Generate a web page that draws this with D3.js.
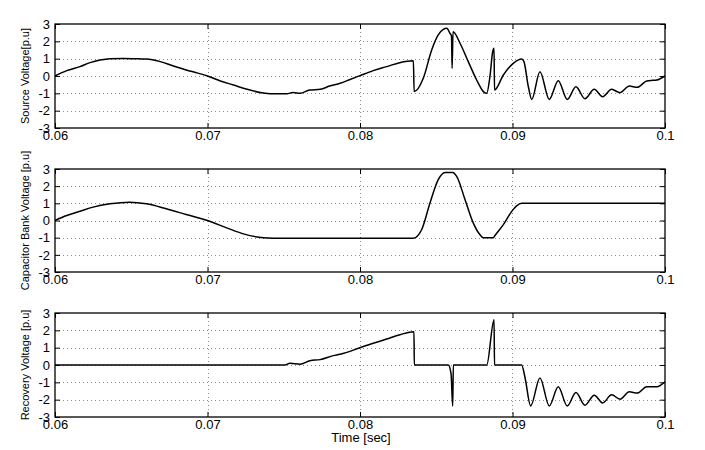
<!DOCTYPE html>
<html>
<head>
<meta charset="utf-8">
<script src="https://cdn.jsdelivr.net/npm/d3@7"></script>
<style>
  html, body { margin: 0; padding: 0; background: #fff; }
  svg { display: block; font-family: "Liberation Sans", Arial, Helvetica, sans-serif; }
</style>
</head>
<body>
<svg id="chart" width="705" height="450"></svg>
<script>
// ---------- data (time in seconds, voltage in p.u.) ----------
const xTickValues = [0.06, 0.07, 0.08, 0.09, 0.1];
const xTickLabels = ["0.06", "0.07", "0.08", "0.09", "0.1"];
const yTickValues = [-3, -2, -1, 0, 1, 2, 3];
const yTickLabels = ["-3", "-2", "-1", "0", "1", "2", "3"];
const panelTitles = ["Source Voltage[p.u]", "Capacitor Bank Voltage [p.u]", "Recovery Voltage [p.u]"];
const xAxisTitle = "Time [sec]";

const sourceTime = [0.06, 0.06077, 0.06164, 0.0623, 0.06295, 0.0636, 0.0645, 0.0652, 0.066, 0.0669, 0.06776, 0.0686, 0.0693, 0.07,
  0.0708, 0.0717, 0.0726, 0.07366, 0.0745, 0.0752, 0.0756, 0.07607, 0.0767, 0.0774, 0.078, 0.0787, 0.0793, 0.08,
  0.08087, 0.08175, 0.0826, 0.0835, 0.08355, 0.08415, 0.0847, 0.08513, 0.08546, 0.08569, 0.0859, 0.086, 0.08604, 0.0861,
  0.08656, 0.0871, 0.08765, 0.08809, 0.08831, 0.08852, 0.0887, 0.08879, 0.08882, 0.0894, 0.09005, 0.0906, 0.09075,
  0.09104, 0.09126, 0.0918, 0.09241, 0.093, 0.09359, 0.09416, 0.09475, 0.09536, 0.09591, 0.0965, 0.09705, 0.09766,
  0.09818, 0.0988, 0.0992, 0.09946, 0.1];
const sourceVolt = [0, 0.31, 0.54, 0.77, 0.92, 1.0, 1.01, 1.0, 0.98, 0.83, 0.58, 0.35, 0.18, 0,
  -0.27, -0.52, -0.77, -0.98, -1.03, -1.03, -0.95, -1.0, -0.81, -0.77, -0.58, -0.42, -0.22, 0.02,
  0.31, 0.54, 0.77, 0.88, -0.9, -0.13, 1.5, 2.37, 2.69, 2.75, 2.46, 2.3, 0.44, 2.56,
  1.89, 0.83, -0.23, -0.9, -1.0, -0.04, 1.4, 1.6, -0.81, 0.06, 0.73, 0.98, 0.83,
  -0.62, -1.35, 0.25, -1.35, -0.27, -1.35, -0.62, -1.31, -0.77, -1.19, -0.77, -0.96, -0.58,
  -0.65, -0.29, -0.25, -0.23, 0];

const capTime = [0.06, 0.06077, 0.06164, 0.0625, 0.0636, 0.0649, 0.066, 0.0673, 0.0686, 0.07, 0.07126, 0.07235,
  0.07366, 0.07497, 0.0835, 0.08404, 0.08459, 0.08513, 0.08557, 0.08608, 0.08634, 0.08689, 0.08743, 0.08787,
  0.08809, 0.08874, 0.08885, 0.0894, 0.08995, 0.09027, 0.0906, 0.1];
const capVolt = [0, 0.29, 0.54, 0.78, 0.97, 1.07, 0.97, 0.68, 0.35, 0, -0.43, -0.78,
  -1.0, -1.03, -1.03, -0.54, 1.02, 2.38, 2.8, 2.8, 2.57, 1.21, -0.15, -0.83,
  -1.0, -1.0, -0.87, -0.24, 0.53, 0.85, 1.0, 1.0];

const recTime = [0.06, 0.07508, 0.0754, 0.07607, 0.07672, 0.07738, 0.07825, 0.07869, 0.07913, 0.08, 0.08087,
  0.08175, 0.08262, 0.08354, 0.08356, 0.08579, 0.08597, 0.08608, 0.08612, 0.08831, 0.08879, 0.08882, 0.0906,
  0.09082, 0.09119, 0.0918, 0.09241, 0.093, 0.09359, 0.09416, 0.09475, 0.09536, 0.09591, 0.0965, 0.09705,
  0.09766, 0.09818, 0.0988, 0.09946, 0.1];
const recVolt = [0, 0, 0.1, 0.05, 0.25, 0.31, 0.54, 0.62, 0.73, 1.0, 1.25,
  1.5, 1.75, 1.92, 0, 0, -0.5, -2.36, 0, 0, 2.61, 0, 0,
  -0.72, -2.36, -0.75, -2.36, -1.26, -2.36, -1.59, -2.32, -1.74, -2.19, -1.72, -1.97,
  -1.55, -1.62, -1.26, -1.26, -0.97];

// ---------- layout ----------
const svg = d3.select("#chart");
const left = 55, right = 665;
const panels = [
  { top: 24, bottom: 128, t: sourceTime, v: sourceVolt, title: panelTitles[0] },
  { top: 169, bottom: 272, t: capTime, v: capVolt, title: panelTitles[1] },
  { top: 313, bottom: 417, t: recTime, v: recVolt, title: panelTitles[2] }
];

const x = d3.scaleLinear().domain([0.06, 0.1]).range([left, right]);

panels.forEach((p, i) => {
  const y = d3.scaleLinear().domain([-3, 3]).range([p.bottom, p.top]);
  const g = svg.append("g");

  // grid
  const grid = g.append("g").attr("stroke", "#8a8a8a").attr("stroke-width", 1)
    .attr("stroke-dasharray", "1,3").attr("shape-rendering", "crispEdges");
  xTickValues.slice(1, -1).forEach(tv => {
    grid.append("line").attr("x1", Math.round(x(tv)) + 0.5).attr("x2", Math.round(x(tv)) + 0.5)
      .attr("y1", p.top).attr("y2", p.bottom);
  });
  yTickValues.slice(1, -1).forEach(tv => {
    grid.append("line").attr("y1", Math.round(y(tv)) + 0.5).attr("y2", Math.round(y(tv)) + 0.5)
      .attr("x1", left).attr("x2", right);
  });

  // axes
  const fmtX = (d) => xTickLabels[xTickValues.indexOf(d)];
  const fmtY = (d) => yTickLabels[yTickValues.indexOf(d)];
  const ax = g.append("g").attr("transform", `translate(0,${p.bottom})`)
    .call(d3.axisBottom(x).tickValues(xTickValues).tickFormat(fmtX).tickSizeInner(-5).tickSizeOuter(0).tickPadding(3));
  const ay = g.append("g").attr("transform", `translate(${left},0)`)
    .call(d3.axisLeft(y).tickValues(yTickValues).tickFormat(fmtY).tickSizeInner(-5).tickSizeOuter(0).tickPadding(5));
  const axT = g.append("g").attr("transform", `translate(0,${p.top})`)
    .call(d3.axisTop(x).tickValues(xTickValues).tickFormat("").tickSizeInner(-5).tickSizeOuter(0));
  const ayR = g.append("g").attr("transform", `translate(${right},0)`)
    .call(d3.axisRight(y).tickValues(yTickValues).tickFormat("").tickSizeInner(-5).tickSizeOuter(0));
  [ax, ay, axT, ayR].forEach(a => {
    a.select(".domain").remove();
    a.selectAll("line").attr("stroke", "#000");
    a.selectAll("text").attr("fill", "#000").style("font-size", "13px")
      .style("font-family", '"Liberation Sans", Arial, Helvetica, sans-serif');
  });

  // frame
  g.append("rect").attr("x", left).attr("y", p.top).attr("width", right - left).attr("height", p.bottom - p.top)
    .attr("fill", "none").attr("stroke", "#000").attr("stroke-width", 1.3);

  // data line
  const pts = p.t.map((t, k) => [t, p.v[k]]);
  const line = d3.line().x(d => x(d[0])).y(d => y(d[1])).curve(d3.curveMonotoneX);
  g.append("path").datum(pts).attr("d", line).attr("fill", "none")
    .attr("stroke", "#000").attr("stroke-width", 1.5).attr("stroke-linejoin", "round");

  // y title
  const cy = (p.top + p.bottom) / 2;
  g.append("text").attr("transform", `translate(25,${cy}) rotate(-90)`)
    .attr("text-anchor", "middle").attr("dy", "0.35em")
    .style("font-size", "11px").attr("fill", "#000").text(p.title);
});

svg.append("text").attr("x", 361).attr("y", 442).attr("text-anchor", "middle")
  .style("font-size", "13px").attr("fill", "#000").text(xAxisTitle);
</script>
</body>
</html>
